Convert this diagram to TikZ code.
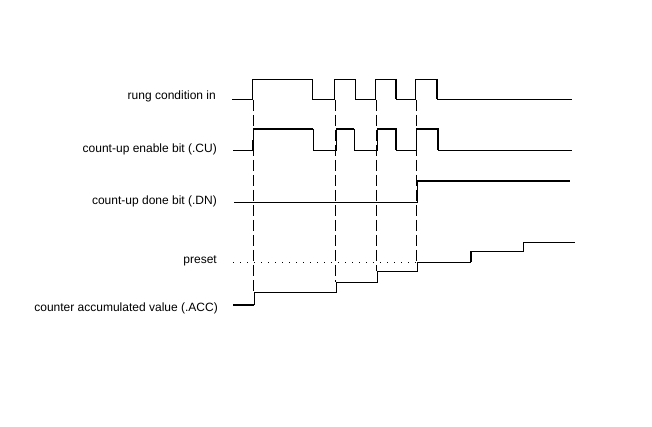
\documentclass[tikz,border=0pt]{standalone}
\usepackage{fontspec}
\setmainfont{Liberation Sans}
\begin{document}
\begin{tikzpicture}[x=1pt,y=-1pt,
  lbl/.style={anchor=east,inner sep=0pt,font=\fontsize{12}{14}\selectfont},
  thin line/.style={line width=0.9pt},
  thick line/.style={line width=1.8pt},
  guide/.style={line width=0.9pt,dash pattern=on 11pt off 4pt},
  dots/.style={line width=0.9pt,dash pattern=on 1pt off 6pt}]
\useasboundingbox (0,0) rectangle (652,427);
% labels
\node[lbl] (lrung) at (216,96) {rung condition in};
\node[lbl] (lcu) at (217,149) {count-up enable bit (.CU)};
\node[lbl] (ldn) at (217,201) {count-up done bit (.DN)};
\node[lbl] (lpre) at (217,261) {preset};
\node[lbl] (lacc) at (218,308) {counter accumulated value (.ACC)};
% rung condition
\draw[thin line] (232,99) -- (252,99) -- (252,79) -- (312,79) -- (312,99) -- (334,99) -- (334,79) -- (355,79) -- (355,99) -- (375,99) -- (375,79) -- (396,79) -- (396,99) -- (415,99) -- (415,79) -- (437,79) -- (437,99) -- (572,99);
\draw[thick line] (396,79) -- (396,99);
\draw[thick line] (437,79) -- (437,99);
% CU
\draw[thin line] (233,150) -- (253,150) -- (253,129);
\draw[thick line] (253,129) -- (313,129);
\draw[thin line] (313,129) -- (313,150) -- (336,150) -- (336,129);
\draw[thick line] (336,129) -- (354,129);
\draw[thin line] (354,129) -- (354,150) -- (377,150) -- (377,129);
\draw[thick line] (377,129) -- (396,129) -- (396,150);
\draw[thin line] (396,150) -- (416,150) -- (416,129);
\draw[thick line] (416,129) -- (438,129) -- (438,150);
\draw[thin line] (438,150) -- (572,150);
\draw[thick line] (253,140) -- (253,150);
% DN
\draw[thin line] (234,202) -- (417,202) -- (417,181);
\draw[thick line] (417,181) -- (570,181);
% preset
\draw[dots] (233,262) -- (417,262);
% ACC
\draw[thick line] (233,305) -- (254,305);
\draw[thin line] (254,305) -- (254,292) -- (336,292) -- (336,282) -- (377,282) -- (377,271) -- (417,271) -- (417,262) -- (471,262);
\draw[thick line] (471,262) -- (471,251);
\draw[thin line] (471,251) -- (523,251) -- (523,242) -- (575,242);
% guides
\draw[guide] (253,100) -- (253,292);
\draw[guide] (335,100) -- (335,282);
\draw[guide] (376,100) -- (376,271);
\draw[guide] (416,100) -- (416,262);
\end{tikzpicture}
\end{document}
